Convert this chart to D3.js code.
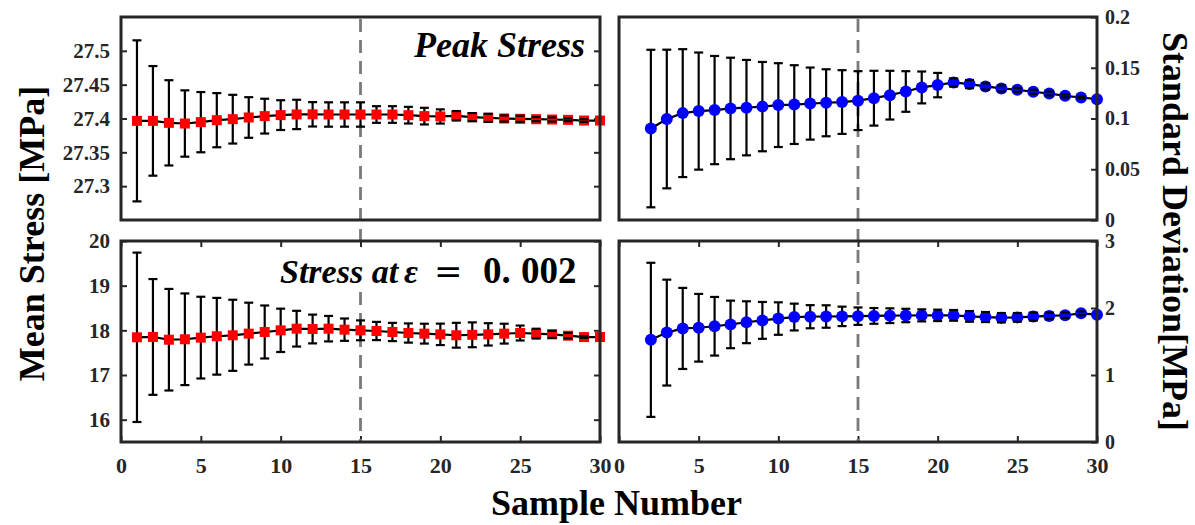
<!DOCTYPE html>
<html>
<head>
<meta charset="utf-8">
<script src="https://cdn.jsdelivr.net/npm/d3@7"></script>
<style>
  html, body { margin: 0; padding: 0; background: #fff; }
  svg { display: block; }
</style>
</head>
<body>
<svg id="chart" width="1195" height="525"></svg>
<script>
// ---------------- data ----------------
const samples = [1,2,3,4,5,6,7,8,9,10,11,12,13,14,15,16,17,18,19,20,21,22,23,24,25,26,27,28,29,30];
const sdSamples = [2,3,4,5,6,7,8,9,10,11,12,13,14,15,16,17,18,19,20,21,22,23,24,25,26,27,28,29,30];

const peakMean = [27.3965, 27.3965, 27.3936, 27.3926, 27.3946, 27.3975, 27.399, 27.4015, 27.4035, 27.405,
                  27.406, 27.4062, 27.4059, 27.4059, 27.4059, 27.4059, 27.4059, 27.4049, 27.4035, 27.403,
                  27.404, 27.402, 27.401, 27.400, 27.3995, 27.399, 27.3985, 27.398, 27.397, 27.397];
const peakErr  = [0.119, 0.081, 0.063, 0.049, 0.0445, 0.040, 0.036, 0.030, 0.0257, 0.022,
                  0.0217, 0.018, 0.018, 0.018, 0.018, 0.0123, 0.0123, 0.0123, 0.0123, 0.0105,
                  0.007, 0.006, 0.006, 0.0045, 0.0045, 0.003, 0.003, 0.002, 0.002, 0];

const yieldMean = [17.844, 17.852, 17.79, 17.80, 17.837, 17.867, 17.889, 17.926, 17.963, 18.0,
                   18.037, 18.03, 18.037, 18.015, 18.0, 17.985, 17.963, 17.94, 17.926, 17.91,
                   17.89, 17.90, 17.91, 17.926, 17.94, 17.926, 17.91, 17.88, 17.85, 17.85];
const yieldErr  = [1.896, 1.296, 1.137, 1.026, 0.915, 0.859, 0.796, 0.693, 0.593, 0.485,
                   0.40, 0.322, 0.285, 0.25, 0.222, 0.204, 0.204, 0.215, 0.222, 0.24,
                   0.278, 0.278, 0.25, 0.222, 0.167, 0.11, 0.08, 0.06, 0.02, 0];

const peakSD    = [0.0901, 0.0995, 0.1053, 0.1073, 0.1083, 0.1099, 0.1107, 0.1117, 0.1132, 0.1137,
                   0.1147, 0.1155, 0.1162, 0.1176, 0.1200, 0.1230, 0.1266, 0.1306, 0.1329, 0.1355,
                   0.1339, 0.1316, 0.1296, 0.1283, 0.1263, 0.1246, 0.1223, 0.1207, 0.119];
const peakSDErr = [0.0776, 0.0683, 0.063, 0.0577, 0.0533, 0.050, 0.047, 0.044, 0.0413, 0.0388,
                   0.0355, 0.033, 0.0314, 0.029, 0.027, 0.024, 0.020, 0.0157, 0.012, 0.004,
                   0.004, 0.003, 0.003, 0.002, 0.002, 0.002, 0.0015, 0.001, 0];

const yieldSD    = [1.525, 1.633, 1.695, 1.705, 1.7275, 1.755, 1.7875, 1.815, 1.8425, 1.865,
                    1.87, 1.873, 1.875, 1.878, 1.882, 1.885, 1.888, 1.89, 1.89, 1.89,
                    1.875, 1.865, 1.855, 1.86, 1.872, 1.882, 1.892, 1.92, 1.90];
const yieldSDErr = [1.15, 0.79, 0.605, 0.505, 0.4375, 0.355, 0.3125, 0.275, 0.2425, 0.20,
                    0.1725, 0.1675, 0.145, 0.13, 0.1175, 0.11, 0.10, 0.09, 0.085, 0.08,
                    0.08, 0.075, 0.07, 0.065, 0.06, 0.05, 0.04, 0.03, 0];

const xTicks = [0, 5, 10, 15, 20, 25, 30];
const xTickLabels = ["0", "5", "10", "15", "20", "25", "30"];
const peakTicks = [27.3, 27.35, 27.4, 27.45, 27.5];
const peakTickLabels = ["27.3", "27.35", "27.4", "27.45", "27.5"];
const yieldTicks = [16, 17, 18, 19, 20];
const yieldTickLabels = ["16", "17", "18", "19", "20"];
const peakSDTicks = [0, 0.05, 0.1, 0.15, 0.2];
const peakSDTickLabels = ["0", "0.05", "0.1", "0.15", "0.2"];
const yieldSDTicks = [0, 1, 2, 3];
const yieldSDTickLabels = ["0", "1", "2", "3"];
const markLine = 15;

// ---------------- drawing ----------------
const FONT = '"Liberation Serif"';
const svg = d3.select("#chart");
const frameColor = "#262626";

const panels = [
  {x0:121, x1:600, y0:17,  y1:220, yDom:[27.25, 27.55], xs:samples,   m:peakMean,  e:peakErr,
   yt:peakTicks, ytl:peakTickLabels, side:"left", xTicksOn:false, marker:"square"},
  {x0:619, x1:1097, y0:17, y1:220, yDom:[0, 0.2], xs:sdSamples, m:peakSD, e:peakSDErr,
   yt:peakSDTicks, ytl:peakSDTickLabels, side:"right", xTicksOn:false, marker:"circle"},
  {x0:121, x1:600, y0:241, y1:442, yDom:[15.5, 20], xs:samples, m:yieldMean, e:yieldErr,
   yt:yieldTicks, ytl:yieldTickLabels, side:"left", xTicksOn:true, marker:"square"},
  {x0:619, x1:1097, y0:241, y1:442, yDom:[0, 3], xs:sdSamples, m:yieldSD, e:yieldSDErr,
   yt:yieldSDTicks, ytl:yieldSDTickLabels, side:"right", xTicksOn:true, marker:"circle"}
];

function styleAxis(g, fontSize) {
  g.select(".domain").remove();
  g.attr("font-family", null).attr("font-size", null);
  g.selectAll(".tick line").attr("stroke", frameColor).attr("stroke-width", 2);
  g.selectAll(".tick text").attr("fill", frameColor)
    .attr("font-family", FONT).attr("font-size", fontSize).attr("font-weight", "bold");
}

panels.forEach(p => {
  const x = d3.scaleLinear().domain([0, 30]).range([p.x0, p.x1]);
  const y = d3.scaleLinear().domain(p.yDom).range([p.y1, p.y0]);
  p.x = x; p.y = y;
  const g = svg.append("g");

  const fmtY = d => p.ytl[p.yt.indexOf(d)];
  if (p.side === "left") {
    g.append("g").attr("transform", `translate(${p.x0},0)`)
      .call(d3.axisLeft(y).tickValues(p.yt).tickFormat(fmtY).tickSize(-6).tickPadding(11))
      .call(a => styleAxis(a, 21));
    g.append("g").attr("transform", `translate(${p.x1},0)`)
      .call(d3.axisRight(y).tickValues(p.yt).tickFormat("").tickSize(-6))
      .call(a => styleAxis(a, 21));
  } else {
    g.append("g").attr("transform", `translate(${p.x1},0)`)
      .call(d3.axisRight(y).tickValues(p.yt).tickFormat(fmtY).tickSize(-6).tickPadding(8))
      .call(a => styleAxis(a, 20));
  }
  if (p.xTicksOn) {
    const fmtX = d => xTickLabels[xTicks.indexOf(d)];
    g.append("g").attr("transform", `translate(0,${p.y1})`)
      .call(d3.axisBottom(x).tickValues(xTicks).tickFormat(fmtX).tickSize(-6).tickPadding(15))
      .call(a => styleAxis(a, 22));
    g.append("g").attr("transform", `translate(0,${p.y0})`)
      .call(d3.axisTop(x).tickValues(xTicks).tickFormat("").tickSize(-6))
      .call(a => styleAxis(a, 22));
  }
});

// dashed reference lines spanning both rows
[[panels[0], panels[2]], [panels[1], panels[3]]].forEach(([top, bot]) => {
  svg.append("line")
    .attr("x1", top.x(markLine)).attr("x2", top.x(markLine))
    .attr("y1", top.y0 + 2).attr("y2", bot.y1 - 1)
    .attr("stroke", "#7a7a7a").attr("stroke-width", 2.8)
    .attr("stroke-dasharray", "13,8");
});

// white box behind the second annotation
svg.append("rect").attr("x", 276).attr("y", 249).attr("width", 306).attr("height", 42).attr("fill", "#fff");

panels.forEach(p => {
  const g = svg.append("g");
  const pts = p.xs.map((s, i) => ({s, m: p.m[i], e: p.e[i]}));
  const capW = 9;
  g.selectAll("line.stem").data(pts).join("line").attr("class", "stem")
    .attr("x1", d => p.x(d.s)).attr("x2", d => p.x(d.s))
    .attr("y1", d => p.y(d.m - d.e)).attr("y2", d => p.y(d.m + d.e))
    .attr("stroke", "#000").attr("stroke-width", 2.2);
  g.append("path").datum(pts)
    .attr("d", d3.line().x(d => p.x(d.s)).y(d => p.y(d.m)))
    .attr("fill", "none").attr("stroke", "#000").attr("stroke-width", 2.2);
  if (p.marker === "square") {
    g.selectAll("rect.mk").data(pts).join("rect").attr("class", "mk")
      .attr("x", d => p.x(d.s) - 5).attr("y", d => p.y(d.m) - 5)
      .attr("width", 10).attr("height", 10).attr("fill", "#ff0000");
  } else {
    g.selectAll("circle.mk").data(pts).join("circle").attr("class", "mk")
      .attr("cx", d => p.x(d.s)).attr("cy", d => p.y(d.m)).attr("r", 6)
      .attr("fill", "#0000ff");
  }
  ["lo", "hi"].forEach(k => {
    g.selectAll("line.cap" + k).data(pts.filter(d => d.e > 0)).join("line").attr("class", "cap" + k)
      .attr("x1", d => p.x(d.s) - capW / 2).attr("x2", d => p.x(d.s) + capW / 2)
      .attr("y1", d => p.y(k === "lo" ? d.m - d.e : d.m + d.e))
      .attr("y2", d => p.y(k === "lo" ? d.m - d.e : d.m + d.e))
      .attr("stroke", "#000").attr("stroke-width", 2.2);
  });
  svg.append("rect").attr("x", p.x0).attr("y", p.y0)
    .attr("width", p.x1 - p.x0).attr("height", p.y1 - p.y0)
    .attr("fill", "none").attr("stroke", frameColor).attr("stroke-width", 3);
});

// annotations
svg.append("text").attr("x", 585).attr("y", 57).attr("text-anchor", "end")
  .attr("font-family", FONT).attr("font-size", 36).attr("font-weight", "bold").attr("font-style", "italic")
  .text("Peak Stress");

const t2 = svg.append("text").attr("y", 283).attr("font-family", FONT)
  .attr("font-size", 34).attr("font-weight", "bold");
t2.append("tspan").attr("x", 280).attr("font-style", "italic").text("Stress at");
t2.append("tspan").attr("x", 404).attr("font-style", "italic").text("ε");
t2.append("tspan").attr("x", 434).attr("font-family", '"DejaVu Serif"').attr("font-weight", "normal").text("=");
t2.append("tspan").attr("x", 483).attr("font-size", 37).text("0.");
t2.append("tspan").attr("x", 521).attr("font-size", 37).text("002");

// axis titles
svg.append("text").attr("transform", "translate(44,233.5) rotate(-90)").attr("text-anchor", "middle")
  .attr("font-family", FONT).attr("font-size", 36).attr("font-weight", "bold").text("Mean Stress [MPa]");
svg.append("text").attr("transform", "translate(1163,231.5) rotate(90)").attr("text-anchor", "middle")
  .attr("font-family", FONT).attr("font-size", 36).attr("font-weight", "bold").text("Standard Deviation[MPa]");
svg.append("text").attr("x", 616.5).attr("y", 515).attr("text-anchor", "middle")
  .attr("font-family", FONT).attr("font-size", 36).attr("font-weight", "bold").text("Sample Number");
</script>
</body>
</html>
